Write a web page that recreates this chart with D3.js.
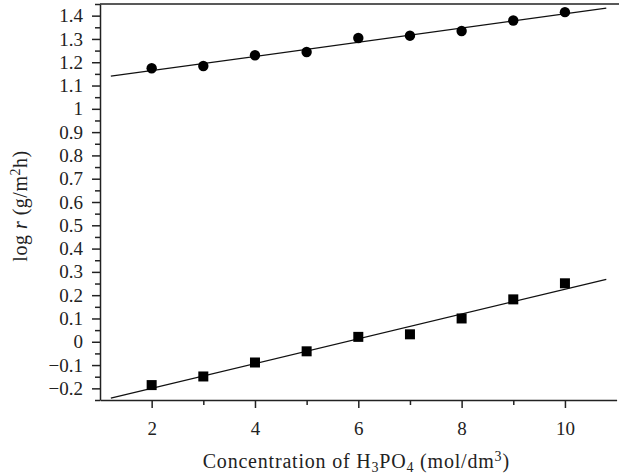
<!DOCTYPE html>
<html>
<head>
<meta charset="utf-8">
<script src="https://cdn.jsdelivr.net/npm/d3@7"></script>
<style>
  body { margin: 0; background: #fff; }
  svg text { font-family: "Liberation Serif", "DejaVu Serif", serif; fill: #222; }
</style>
</head>
<body>
<svg id="chart" width="619" height="475"></svg>
<script>
// concentration values (mol/dm3)
const conc = [2, 3, 4, 5, 6, 7, 8, 9, 10];
// upper series (circles)
const logRCircles = [1.174, 1.184, 1.230, 1.244, 1.304, 1.314, 1.334, 1.379, 1.415];
// lower series (squares)
const logRSquares = [-0.186, -0.149, -0.089, -0.041, 0.021, 0.032, 0.100, 0.182, 0.251];
// fitted lines, endpoints
const fitX = [1.21, 10.8];
const fitCircles = [1.140, 1.432];
const fitSquares = [-0.242, 0.268];

const xMajor = [2, 4, 6, 8, 10];
const xMinor = [3, 5, 7, 9];
const yMajor = [-0.2, -0.1, 0, 0.1, 0.2, 0.3, 0.4, 0.5, 0.6, 0.7, 0.8, 0.9, 1, 1.1, 1.2, 1.3, 1.4];
const yMinor = [-0.25, -0.15, -0.05, 0.05, 0.15, 0.25, 0.35, 0.45, 0.55, 0.65, 0.75, 0.85, 0.95, 1.05, 1.15, 1.25, 1.35, 1.45];

(function() {
  const svg = d3.select("#chart");
  const mLeft = 100, mRight = 616.6, mTop = 4, mBottom = 400;

  const x = d3.scaleLinear().domain([1, 11]).range([mLeft, mRight]);
  const y = d3.scaleLinear().domain([-0.25, 1.45]).range([mBottom, mTop]);

  const ink = "#222";

  // x axis
  const gx = svg.append("g").attr("transform", `translate(0,${mBottom})`);
  gx.call(d3.axisBottom(x).tickValues(xMajor).tickSize(8).tickSizeOuter(0).tickPadding(14).tickFormat(d3.format("d")));
  gx.append("g").call(d3.axisBottom(x).tickValues(xMinor).tickSize(5).tickFormat(""))
    .select(".domain").remove();

  // y axis
  const gy = svg.append("g").attr("transform", `translate(${mLeft},0)`);
  gy.call(d3.axisLeft(y).tickValues(yMajor).tickSize(8).tickSizeOuter(0).tickPadding(9).tickFormat(d3.format(".1~f")));
  gy.append("g").call(d3.axisLeft(y).tickValues(yMinor).tickSize(5).tickFormat(""))
    .select(".domain").remove();

  svg.selectAll(".domain, .tick line").attr("stroke", ink).attr("stroke-width", 1.5);
  svg.selectAll(".tick text").attr("fill", ink).style("font-size", "19px")
    .style("font-family", '"Liberation Serif", "DejaVu Serif", serif');

  // top frame line
  svg.append("line")
    .attr("x1", mLeft).attr("x2", 619).attr("y1", mTop).attr("y2", mTop)
    .attr("stroke", ink).attr("stroke-width", 1.5);

  // fit lines
  const line = d3.line().x(d => x(d[0])).y(d => y(d[1]));
  [fitCircles, fitSquares].forEach(fy => {
    svg.append("path")
      .attr("d", line(fitX.map((v, i) => [v, fy[i]])))
      .attr("fill", "none").attr("stroke", "#111").attr("stroke-width", 1.3);
  });

  // circles
  svg.selectAll("circle.pt").data(conc).enter().append("circle")
    .attr("class", "pt")
    .attr("cx", d => x(d))
    .attr("cy", (d, i) => y(logRCircles[i]))
    .attr("r", 5.2)
    .attr("fill", "#000");

  // squares
  const s = 10;
  svg.selectAll("rect.pt").data(conc).enter().append("rect")
    .attr("class", "pt")
    .attr("x", d => x(d) - s / 2)
    .attr("y", (d, i) => y(logRSquares[i]) - s / 2)
    .attr("width", s).attr("height", s)
    .attr("fill", "#000");

  // axis titles
  const xt = svg.append("text")
    .attr("x", (mLeft + mRight) / 2 - 2).attr("y", 468)
    .attr("text-anchor", "middle").style("font-size", "20px").style("letter-spacing", "0.8px");
  xt.append("tspan").text("Concentration of H");
  xt.append("tspan").text("3").attr("dy", 4).style("font-size", "14px");
  xt.append("tspan").text("PO").attr("dy", -4);
  xt.append("tspan").text("4").attr("dy", 4).style("font-size", "14px");
  xt.append("tspan").text(" (mol/dm").attr("dy", -4);
  xt.append("tspan").text("3").attr("dy", -7).style("font-size", "14px");
  xt.append("tspan").text(")").attr("dy", 7);

  const yt = svg.append("text")
    .attr("transform", "translate(27,206) rotate(-90)")
    .attr("text-anchor", "middle").style("font-size", "20px").style("letter-spacing", "0.5px");
  yt.append("tspan").text("log ");
  yt.append("tspan").text("r").style("font-style", "italic");
  yt.append("tspan").text(" (g/m");
  yt.append("tspan").text("2").attr("dy", -7).style("font-size", "14px");
  yt.append("tspan").text("h)").attr("dy", 7);
})();
</script>
</body>
</html>
